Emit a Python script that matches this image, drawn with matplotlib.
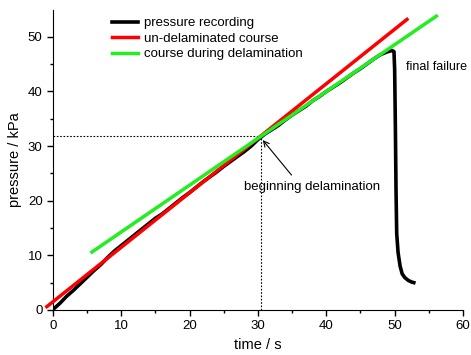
import numpy as np
from matplotlib import pyplot as plt

plt.rcParams['font.family'] = ['Liberation Sans', 'DejaVu Sans']

# pressure recording
t_rec = [0.2, 1, 2, 3, 4, 5, 6, 7, 8, 9, 10, 11, 12, 13, 14, 15, 16, 17, 18, 19,
         20, 21, 22, 23, 24, 25, 26, 27, 28, 29, 30, 31, 32, 33, 34, 35, 36, 37,
         38, 39, 40, 41, 42, 43, 44, 45, 46, 47, 48, 49, 49.6, 49.9, 50.0, 50.1,
         50.2, 50.3, 50.5, 50.8, 51.1, 51.5, 52.0, 52.5, 52.8]
p_rec = [0.3, 1.2, 2.5, 3.6, 4.8, 6.0, 7.2, 8.3, 9.6, 10.8, 11.8, 12.8, 13.8,
         14.8, 15.8, 16.8, 17.6, 18.6, 19.6, 20.6, 21.5, 22.5, 23.5, 24.4, 25.3,
         26.3, 27.2, 28.1, 29.0, 30.0, 31.2, 32.2, 33.0, 33.8, 34.8, 35.7, 36.5,
         37.3, 38.3, 39.1, 40.0, 40.8, 41.6, 42.5, 43.4, 44.2, 45.1, 46.0, 46.8,
         47.3, 47.5, 47.3, 44.0, 34.0, 22.0, 14.0, 10.5, 8.0, 6.6, 5.9, 5.4, 5.1, 5.0]

# fitted courses
t_undel = [-0.9, 51.8]
p_undel = [0.6, 53.2]
t_del = [5.7, 56.1]
p_del = [10.6, 53.8]

# onset of delamination
t_onset = 30.5
p_onset = 31.8

fig = plt.figure(figsize=(4.71, 3.55), dpi=100)
ax = fig.add_axes([0.1125, 0.127, 0.8705, 0.846])

ax.plot(t_rec, p_rec, color='black', lw=2.6, label='pressure recording', zorder=3)
ax.plot(t_undel, p_undel, color='red', lw=2.5, label='un-delaminated course',
        clip_on=False, zorder=4)
ax.plot(t_del, p_del, color='#22ee22', lw=2.5, label='course during delamination',
        zorder=5)

ax.plot([0, t_onset], [p_onset, p_onset], color='black', lw=0.8, ls=(0, (1.5, 1.5)))
ax.plot([t_onset, t_onset], [0, p_onset], color='black', lw=0.8, ls=(0, (1.5, 1.5)))

ax.annotate('', xy=(30.7, 31.1), xytext=(34.9, 24.7),
            arrowprops=dict(arrowstyle='->', color='black', lw=0.8,
                            shrinkA=0, shrinkB=0))
ax.text(37.9, 23.7, 'beginning delamination', fontsize=9.5, ha='center', va='top')
ax.text(51.7, 44.5, 'final failure', fontsize=9, ha='left', va='center')

ax.set_xlim(0, 60)
ax.set_ylim(0, 55)
ax.set_xticks([0, 10, 20, 30, 40, 50, 60])
ax.set_yticks([0, 10, 20, 30, 40, 50])
ax.set_xticks(np.arange(5, 60, 10), minor=True)
ax.set_yticks(np.arange(5, 55, 10), minor=True)
ax.tick_params(which='major', direction='out', length=4, width=1, labelsize=9.5)
ax.tick_params(which='minor', direction='out', length=2.5, width=1)
ax.spines['top'].set_visible(False)
ax.spines['right'].set_visible(False)
ax.set_xlabel('time / s', fontsize=10.5)
ax.set_ylabel('pressure / kPa', fontsize=10.5)

ax.legend(loc='upper left', bbox_to_anchor=(0.115, 1.015), frameon=False,
          fontsize=9.5, handlelength=2.0, handletextpad=0.45, labelspacing=0.25)

fig.savefig('out.png', dpi=100)
